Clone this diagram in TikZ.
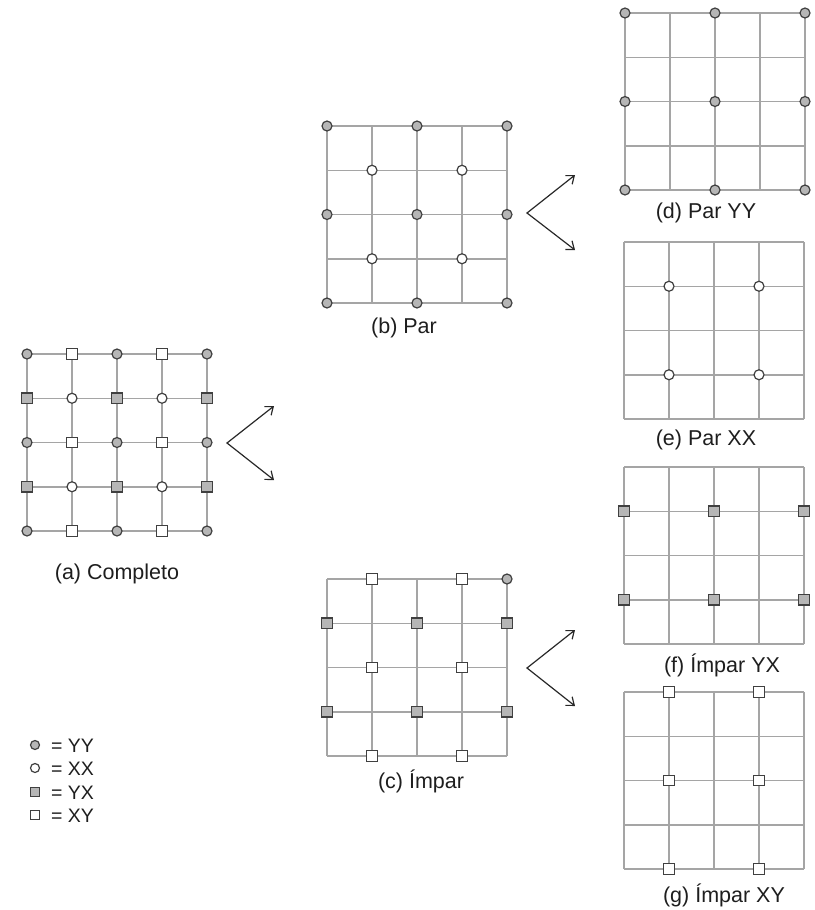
\documentclass[tikz,border=0pt]{standalone}
\usepackage{fontspec}
\setmainfont{Liberation Sans}
\usetikzlibrary{arrows.meta}

\definecolor{gridgray}{RGB}{165,165,165}
\definecolor{markfill}{RGB}{182,182,182}
\definecolor{markline}{RGB}{64,64,64}
\definecolor{arrowcol}{RGB}{40,40,40}
\definecolor{textcol}{RGB}{30,30,30}

\tikzset{
  gridline/.style={draw=gridgray, line width=1.5pt},
  yy/.style={circle, draw=markline, fill=markfill, line width=1.2pt, minimum size=10pt, inner sep=0pt},
  xx/.style={circle, draw=markline, fill=white, line width=1.2pt, minimum size=10pt, inner sep=0pt},
  yx/.style={rectangle, draw=markline, fill=markfill, line width=1.2pt, minimum size=10.5pt, inner sep=0pt},
  xy/.style={rectangle, draw=markline, fill=white, line width=1.2pt, minimum size=10.5pt, inner sep=0pt},
  small/.style={minimum size=9pt},
  caption/.style={text=textcol, font=\fontsize{21.5pt}{26pt}\selectfont, inner sep=0pt, text height=15.5pt, text depth=4.5pt},
  legendtext/.style={text=textcol, font=\fontsize{19.5pt}{23pt}\selectfont, inner sep=0pt, anchor=west, text height=14pt, text depth=0pt},
  splitarrow/.style={draw=arrowcol, line width=1.2pt,
    arrows={Straight Barb[length=7pt,width=11pt]-Straight Barb[length=7pt,width=11pt]}},
  lattice/.style={x=45pt, y=-44.25pt}
}

% the 4x4 square lattice every panel sits on
\newcommand\latticelines{%
  \foreach \k in {0,...,4} {
    \draw[gridline] (\k,0) -- (\k,4);
    \draw[gridline] (0,\k) -- (4,\k);
  }%
}

\begin{document}
\begin{tikzpicture}[x=1pt, y=-1pt]
\useasboundingbox (0,0) rectangle (814,910);

% (a) complete lattice
\begin{scope}[shift={(27pt,-354pt)}, lattice]
  \latticelines
  \foreach \i in {0,2,4} \foreach \j in {0,2,4} \node[yy] (a\i\j) at (\i,\j) {};
  \foreach \i in {1,3} \foreach \j in {0,2,4} \node[xy] (a\i\j) at (\i,\j) {};
  \foreach \i in {0,2,4} \foreach \j in {1,3} \node[yx] (a\i\j) at (\i,\j) {};
  \foreach \i in {1,3} \foreach \j in {1,3} \node[xx] (a\i\j) at (\i,\j) {};
\end{scope}
\node[caption] (capa) at (117,574) {(a) Completo};

% (b) even sublattice
\begin{scope}[shift={(327pt,-126pt)}, lattice]
  \latticelines
  \foreach \i in {0,2,4} \foreach \j in {0,2,4} \node[yy] (b\i\j) at (\i,\j) {};
  \foreach \i in {1,3} \foreach \j in {1,3} \node[xx] (b\i\j) at (\i,\j) {};
\end{scope}
\node[caption] (capb) at (404,328) {(b) Par};

% (c) odd sublattice
\begin{scope}[shift={(327pt,-579pt)}, lattice]
  \latticelines
  \foreach \i in {1,3} \foreach \j in {0,2,4} \node[xy] (c\i\j) at (\i,\j) {};
  \foreach \i in {0,2,4} \foreach \j in {1,3} \node[yx] (c\i\j) at (\i,\j) {};
  \node[yy] (c40) at (4,0) {};
\end{scope}
\node[caption] (capc) at (421,783) {(c) Ímpar};

% (d) even YY
\begin{scope}[shift={(625pt,-13pt)}, lattice]
  \latticelines
  \foreach \i in {0,2,4} \foreach \j in {0,2,4} \node[yy] (d\i\j) at (\i,\j) {};
\end{scope}
\node[caption] (capd) at (706,213) {(d) Par YY};

% (e) even XX
\begin{scope}[shift={(624pt,-242pt)}, lattice]
  \latticelines
  \foreach \i in {1,3} \foreach \j in {1,3} \node[xx] (e\i\j) at (\i,\j) {};
\end{scope}
\node[caption] (cape) at (706,440) {(e) Par XX};

% (f) odd YX
\begin{scope}[shift={(624pt,-467pt)}, lattice]
  \latticelines
  \foreach \i in {0,2,4} \foreach \j in {1,3} \node[yx] (f\i\j) at (\i,\j) {};
\end{scope}
\node[caption] (capf) at (722,667) {(f) Ímpar YX};

% (g) odd XY
\begin{scope}[shift={(624pt,-692pt)}, lattice]
  \latticelines
  \foreach \i in {1,3} \foreach \j in {0,2,4} \node[xy] (g\i\j) at (\i,\j) {};
\end{scope}
\node[caption] (capg) at (724,897) {(g) Ímpar XY};

% splitting arrows
\coordinate (pa)  at (227,443);
\coordinate (pa1) at (274,406);
\coordinate (pa2) at (274,480);
\draw[splitarrow] (pa1) -- (pa) -- (pa2);

\coordinate (pb)  at (527,213);
\coordinate (pb1) at (575,175);
\coordinate (pb2) at (575,250);
\draw[splitarrow] (pb1) -- (pb) -- (pb2);

\coordinate (pc)  at (527,668);
\coordinate (pc1) at (575,630);
\coordinate (pc2) at (575,706);
\draw[splitarrow] (pc1) -- (pc) -- (pc2);

% legend
\node[yy, small] (lyy) at (35,745) {};
\node[xx, small] (lxx) at (35,768) {};
\node[yx, small] (lyx) at (35,792) {};
\node[xy, small] (lxy) at (35,815) {};
\node[legendtext] (tyy) at (51,745) {= YY};
\node[legendtext] (txx) at (51,768) {= XX};
\node[legendtext] (tyx) at (51,792) {= YX};
\node[legendtext] (txy) at (51,815) {= XY};
\end{tikzpicture}
\end{document}
